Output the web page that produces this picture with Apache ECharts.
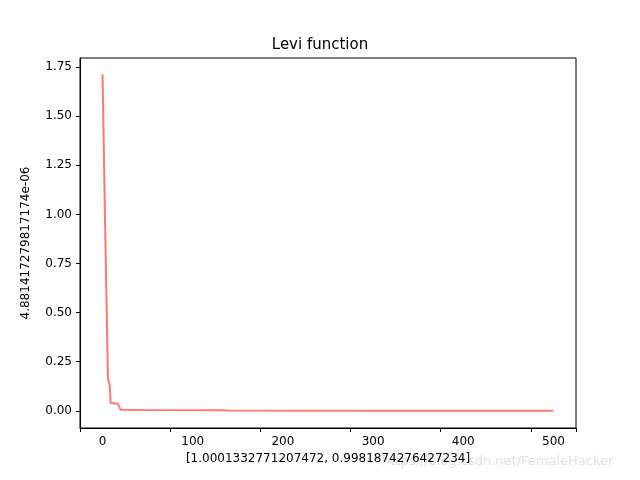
<!DOCTYPE html>
<html><head><meta charset="utf-8">
<script src="https://cdn.jsdelivr.net/npm/echarts@6/dist/echarts.min.js"></script>
<style>html,body{margin:0;padding:0;background:#fff}#c{width:640px;height:480px}</style>
</head><body><div id="c"></div>
<script>
const iterations = [0, 2, 3, 4, 6, 8, 9, 10, 17, 20, 45, 130, 140, 300, 500];
const values = [1.714, 1.71, 0.91, 0.905, 0.163, 0.127, 0.04, 0.036, 0.036, 0.006, 0.004, 0.003, 0.001, 0.0005, 0.0000049];
const xTicks = [0, 100, 200, 300, 400, 500];
const yTicks = [0, 0.25, 0.5, 0.75, 1.0, 1.25, 1.5, 1.75];
const data = iterations.map((x, i) => [x, values[i]]);
const chart = echarts.init(document.getElementById('c'));
const font = 'DejaVu Sans';
chart.setOption({
  animation: false,
  title: {text: 'Levi function', left: 'center', top: 33, textStyle: {fontFamily: font, fontSize: 15, fontWeight: 'normal', color: '#000'}},
  grid: {left: 80, right: 64, top: 58, bottom: 52},
  xAxis: {type: 'value', min: -25, max: 525, interval: 100,
    name: '[1.0001332771207472, 0.9981874276427234]', nameLocation: 'middle', nameGap: 23,
    nameTextStyle: {fontFamily: font, fontSize: 12, color: '#000'},
    axisLine: {onZero: false, lineStyle: {color: '#000'}}, axisTick: {length: 4, lineStyle: {color: '#000'}},
    splitLine: {show: false},
    axisLabel: {fontFamily: font, fontSize: 12, color: '#000', customValues: xTicks, formatter: v => String(v)}},
  yAxis: {type: 'value', min: -0.0875, max: 1.7963,
    name: '4.881417279817174e-06', nameLocation: 'middle', nameGap: 48,
    nameTextStyle: {fontFamily: font, fontSize: 12, color: '#000'},
    axisLine: {show: true, onZero: false, lineStyle: {color: '#000'}}, axisTick: {show: true, length: 4, lineStyle: {color: '#000'}, customValues: yTicks},
    splitLine: {show: false},
    axisLabel: {fontFamily: font, fontSize: 12, color: '#000', customValues: yTicks, formatter: v => v.toFixed(2)}},
  graphic: [
    {type: 'rect', shape: {x: 80, y: 58, width: 496, height: 370}, style: {fill: 'none', stroke: '#000', lineWidth: 1}},
    {type: 'text', left: 382, top: 455, style: {text: 'https://blog.csdn.net/FemaleHacker', fill: '#e0e0e0', font: '13px DejaVu Sans'}}
  ],
  series: [{type: 'line', data: data, showSymbol: false, lineStyle: {color: '#ff7777', width: 2}}]
});
</script></body></html>
